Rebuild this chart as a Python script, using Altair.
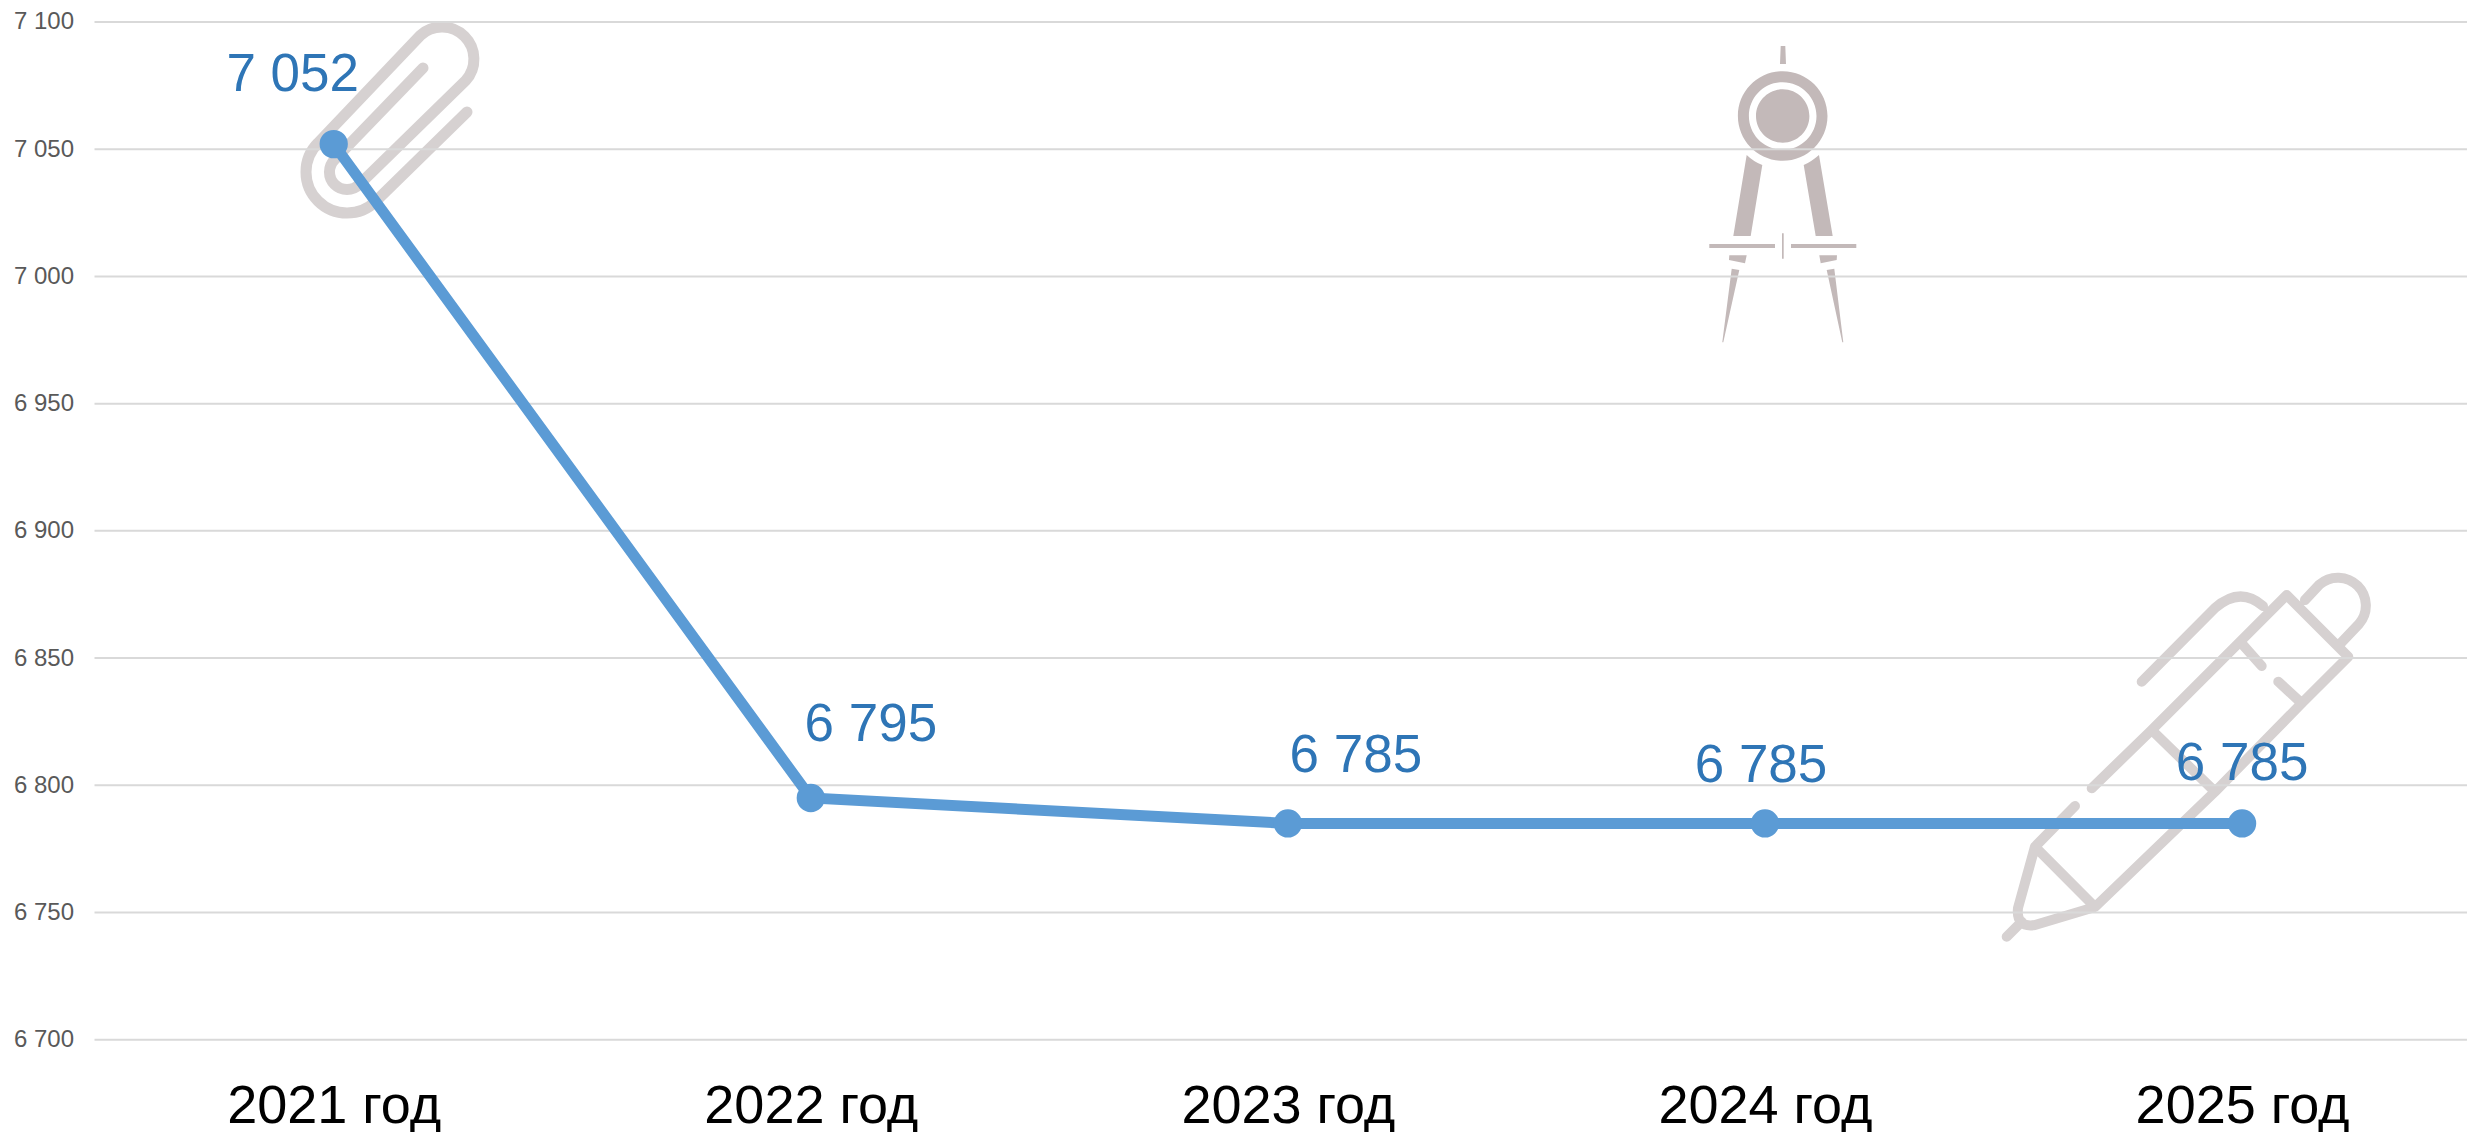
import altair as alt

years = ["2021 год", "2022 год", "2023 год", "2024 год", "2025 год"]
values = [7052, 6795, 6785, 6785, 6785]
labels = ["7 052", "6 795", "6 785", "6 785", "6 785"]
label_dx = [-41, 60, 68, -4, 0]
label_dy = [-69, -73, -67, -57, -59]
y_ticks = [6700, 6750, 6800, 6850, 6900, 6950, 7000, 7050, 7100]

FONT = "Liberation Sans"
LEFT, TOP = 86.5, 14
W, H = 2372.5, 1017.7
ORIGIN_X, ORIGIN_Y = -(LEFT + 8), -(TOP + 8)

CLIP = ("M467 112 L376 201 A41 41 0 0 1 318 143 L420.4 35.4 A32 32 0 0 1 465.6 80.6 "
        "L359.4 184.4 A17.5 17.5 0 0 1 334.6 159.6 L423 68")
PEN = ("M2006.7 936.7 L2021.7 921.7 "
       "M2035 846.7 L2018 908 Q2016 928 2035 925 L2095 907 L2035 846.7 L2075 806 "
       "M2095 907 L2215 791.7 L2151.7 730 L2091.7 788.3 "
       "M2151.7 730 L2240 641.7 L2286.7 595 L2348.3 656.7 L2301.7 703.3 L2215 791.7 "
       "M2301.7 703.3 L2278.3 681.7 M2240 641.7 L2261.7 666 "
       "M2305 600 L2319.5 584.5 A28 28 0 0 1 2359 624 L2340 644 "
       "M2141.7 681.7 L2215 608 Q2240 586 2263 606")
COMPASS = ("M1780.7 46 L1785.3 46 L1786 64 L1780 64 Z "
           "M1782.7 71.2 A44.8 44.8 0 1 1 1782.7 160.8 A44.8 44.8 0 1 1 1782.7 71.2 Z "
           "M1782.7 82.2 A33.8 33.8 0 1 0 1782.7 149.8 A33.8 33.8 0 1 0 1782.7 82.2 Z "
           "M1782.7 89.3 A26.7 26.7 0 1 1 1782.7 142.7 A26.7 26.7 0 1 1 1782.7 89.3 Z "
           "M1746.7 155 Q1754 162 1762.3 165 L1750.7 236 L1733.3 236 Z "
           "M1819 155 Q1811 162 1803.7 165 L1815.7 236 L1832.7 236 Z "
           "M1709.3 244 L1775 244 L1775 248 L1709.3 248 Z "
           "M1791 244 L1856.3 244 L1856.3 248 L1791 248 Z "
           "M1782 233.3 L1783.7 233.3 L1783.7 258.7 L1782 258.7 Z "
           "M1729.3 255.3 L1746.7 255.3 L1745 263.3 L1729 260 Z "
           "M1819.3 255.3 L1837 255.3 L1836.7 260 L1820.7 263.3 Z "
           "M1731.7 268.7 L1739.3 270 L1723.3 342.3 L1722.3 342.3 Z "
           "M1826.7 270 L1834.3 268.7 L1843.3 342.3 L1842.3 342.3 Z")

one = alt.Data(values=[{"i": 0}])
pos = dict(x=alt.value(ORIGIN_X), y=alt.value(ORIGIN_Y))


def stroked(path, width):
    return alt.Chart(one).mark_point(
        shape=path, size=4, filled=False, opacity=1, color="#d6d1d1",
        strokeWidth=width, strokeCap="round", strokeJoin="round",
    ).encode(**pos)


icons = [
    stroked(CLIP, 11),
    stroked(PEN, 10),
    alt.Chart(one).mark_point(
        shape=COMPASS, size=4, filled=True, opacity=1, color="#c3b9b9", strokeWidth=0
    ).encode(**pos),
]

y_scale = alt.Scale(domain=[6700, 7100], nice=False, zero=False)
x_scale = alt.Scale(type="point", domain=years, range=[239.2, 2147.6], padding=0)

grid = alt.Chart(alt.Data(values=[{"t": t} for t in y_ticks])).mark_rule(
    color="#d9d9d9", strokeWidth=2
).encode(
    y=alt.Y("t:Q", scale=y_scale, title=None, axis=alt.Axis(
        values=y_ticks, grid=False, domain=False, ticks=False,
        labelExpr="replace(format(datum.value, ','), ',', ' ')",
        labelFont=FONT, labelFontSize=24, labelColor="#595959", labelPadding=21,
    )),
)

rows = [
    {"year": y, "value": v, "label": l}
    for y, v, l in zip(years, values, labels)
]
base = alt.Chart(alt.Data(values=rows))
enc = dict(
    x=alt.X("year:N", scale=x_scale, sort=years, title=None, axis=alt.Axis(
        labelAngle=0, grid=False, domain=False, ticks=False, labelLimit=500,
        labelFont=FONT, labelFontSize=54, labelColor="#000000", labelPadding=83,
        labelBaseline="alphabetic",
    )),
    y=alt.Y("value:Q", scale=y_scale, title=None),
)
line = base.mark_line(color="#5b9bd5", strokeWidth=11).encode(**enc)
dots = base.mark_circle(color="#5b9bd5", size=800, opacity=1).encode(**enc)

texts = []
for i, row in enumerate(rows):
    texts.append(
        alt.Chart(alt.Data(values=[row])).mark_text(
            font=FONT, fontSize=53, color="#2e75b6", align="center",
            baseline="middle", dx=label_dx[i], dy=label_dy[i],
        ).encode(
            x=alt.X("year:N", scale=x_scale, sort=years, title=None),
            y=alt.Y("value:Q", scale=y_scale, title=None),
            text="label:N",
        )
    )

chart = alt.layer(*icons, grid, line, dots, *texts).properties(
    width=W, height=H,
    padding={"left": LEFT, "top": TOP, "right": 0, "bottom": 92},
    autosize=alt.AutoSizeParams(type="none"),
    background="#ffffff",
).configure_view(stroke=None)

chart.save("out.html", embed_options={"renderer": "svg", "actions": False})
